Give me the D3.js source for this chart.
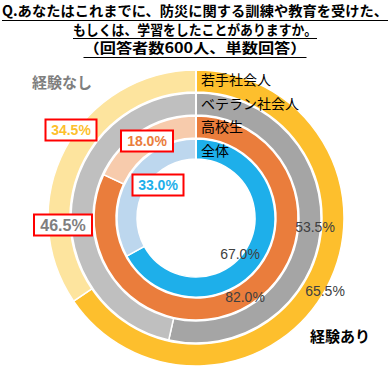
<!DOCTYPE html>
<html><head><meta charset="utf-8">
<script src="https://cdn.jsdelivr.net/npm/d3@7"></script>
<style>body{margin:0;background:#fff;}svg{display:block;}</style>
</head><body>
<script>
const titleLines = ["Q.あなたはこれまでに、防災に関する訓練や教育を受けた、","もしくは、学習をしたことがありますか。","（回答者数600人、単数回答）"];
const groups = ["若手社会人","ベテラン社会人","高校生","全体"];
const answers = ["経験あり","経験なし"];
const yesValues = [65.5, 53.5, 82.0, 67.0];
const noValues = [34.5, 46.5, 18.0, 33.0];

const W = 392, H = 367;
const cx = 196, cy = 218;
const font = "'Noto Sans CJK JP', 'Noto Sans', sans-serif";
const yesColors = ["#FDBF2D","#A5A5A5","#EA7D3C","#1EAFEA"];
const noColors = ["#FDE49E","#BFBFBF","#F7CBAC","#BDD7EE"];
const boxTextColors = ["#FDBF2D","#7F7F7F","#EA7D3C","#1EAFEA"];

const svg = d3.select("body").append("svg").attr("width", W).attr("height", H);

// title
const tl = svg.append("g");
const tY = [16, 34.5, 53];
const tW = [386, 244, 223];
titleLines.forEach((t, i) => {
  tl.append("text").attr("x", W/2 - 1).attr("y", tY[i]).attr("text-anchor","middle")
    .attr("font-family", font).attr("font-weight","bold").attr("font-size", 14)
    .attr("fill","#000").attr("textLength", tW[i]).attr("lengthAdjust","spacingAndGlyphs").text(t);
  tl.append("line").attr("x1", W/2 - 1 - tW[i]/2).attr("x2", W/2 - 1 + tW[i]/2)
    .attr("y1", Math.round(tY[i] + 3.5) + 0.5).attr("y2", Math.round(tY[i] + 3.5) + 0.5)
    .attr("stroke","#000").attr("stroke-width",1);
});

const pie = d3.pie().sort(null).value(d => d.v);
const ring = d3.scaleLinear().domain([0, groups.length - 1]).range([148, 79]);
const ringWidth = [22, 22, 22, 20];

const g = svg.append("g").attr("transform", `translate(${cx},${cy})`);
groups.forEach((grp, i) => {
  const data = [{k: answers[0], v: yesValues[i], c: yesColors[i]}, {k: answers[1], v: noValues[i], c: noColors[i]}];
  const arc = d3.arc().outerRadius(ring(i)).innerRadius(ring(i) - ringWidth[i]);
  g.selectAll(null).data(pie(data)).enter().append("path")
    .attr("d", arc).attr("fill", d => d.data.c)
    .attr("stroke","#fff").attr("stroke-width",1.5);
});
g.append("line").attr("x1",0).attr("x2",0).attr("y1",-150).attr("y2",-56).attr("stroke","#fff").attr("stroke-width",2);

// group labels
const glY = [85, 109, 132, 156];
groups.forEach((grp, i) => {
  svg.append("text").attr("x", 201).attr("y", glY[i]).attr("font-family", font)
    .attr("font-size", 14).attr("fill","#000").text(grp);
});

// yes labels
const yesPos = [[325,291],[315,227],[245,297],[240,254]];
yesValues.forEach((v, i) => {
  svg.append("text").attr("x", yesPos[i][0]).attr("y", yesPos[i][1]).attr("dy","0.35em")
    .attr("text-anchor","middle").attr("font-family","'Liberation Sans', Arial, sans-serif")
    .attr("font-size", 14).attr("fill","#404040").text(v.toFixed(1) + "%");
});

// no labels boxed
const noPos = [[71,130],[63,225],[147,141],[158,185]];
const noW = [51, 58, 52, 51];
noValues.forEach((v, i) => {
  const [x, y] = noPos[i];
  svg.append("rect").attr("x", x - noW[i]/2).attr("y", y - 10.5).attr("width", noW[i]).attr("height", 21)
    .attr("fill","#fff").attr("stroke","#FF0000").attr("stroke-width",2);
  svg.append("text").attr("x", x).attr("y", y).attr("dy","0.36em").attr("text-anchor","middle")
    .attr("font-family","'Liberation Sans', Arial, sans-serif").attr("font-weight","bold")
    .attr("font-size", i === 1 ? 16 : 14).attr("fill", boxTextColors[i]).text(v.toFixed(1) + "%");
});

// answer labels
svg.append("text").attr("x", 62).attr("y", 83).attr("dy","0.35em").attr("text-anchor","middle")
  .attr("font-family", font).attr("font-weight","bold").attr("font-size",15).attr("fill","#7F7F7F").text(answers[1]);
svg.append("text").attr("x", 340).attr("y", 337).attr("dy","0.35em").attr("text-anchor","middle")
  .attr("font-family", font).attr("font-weight","bold").attr("font-size",15).attr("fill","#000").text(answers[0]);
</script>
</body></html>
